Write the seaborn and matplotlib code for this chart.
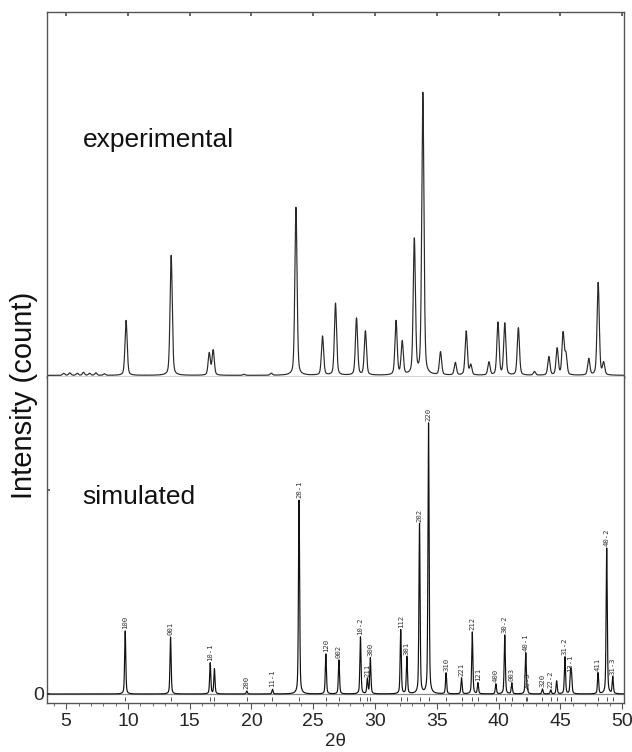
import numpy as np
import pandas as pd
import matplotlib
matplotlib.use("Agg")
import matplotlib.pyplot as plt
import seaborn as sns
from matplotlib import font_manager
from matplotlib.ticker import MultipleLocator, FixedLocator

# ---------------- data ----------------
# experimental pattern: peak positions (2theta) and heights (arbitrary units)
exp_pos = [4.8, 5.3, 5.9, 6.4, 6.9, 7.4, 8.1, 9.85, 13.5, 16.58, 16.9, 19.4, 21.6,
           23.6, 25.75, 26.8, 28.5, 29.22, 31.7, 32.2, 33.18, 33.87, 35.3, 36.5,
           37.38, 37.75, 39.22, 39.95, 40.5, 41.6, 42.9, 44.07, 44.74, 45.22,
           45.45, 47.3, 48.06, 48.5]
exp_int = [2.0, 2.5, 2.0, 3.0, 2.0, 2.5, 1.5, 55, 120, 22, 25, 1.0, 2.0,
           168, 39, 72, 57, 44, 54, 33, 135, 282, 23, 12.5,
           44, 10, 13, 52.5, 51.7, 47.4, 3.7, 18.4, 26.7, 41.7,
           20, 16.4, 92.7, 12]

# simulated pattern: reflections, positions and heights
sim_hkl = ["100", "001", "10-1", "", "200", "11-1", "20-1", "120", "002", "10-2",
           "211", "300", "112", "301", "202", "220", "310", "221", "212", "121",
           "400", "30-2", "003", "40-1", "20-3", "320", "22-2", "", "31-2", "13-1",
           "", "411", "40-2", "31-3"]
sim_pos = [9.78, 13.45, 16.66, 17.0, 19.62, 21.70, 23.85, 26.02, 27.08, 28.82,
           29.38, 29.62, 32.08, 32.58, 33.60, 34.33, 35.75, 37.0, 37.87, 38.33,
           39.78, 40.5, 41.07, 42.2, 42.33, 43.55, 44.22, 44.7, 45.37, 45.82,
           45.9, 48.05, 48.75, 49.24]
sim_int = [63, 57, 31, 25, 3, 4.7, 194, 40, 34, 57,
           15, 36, 64, 37, 170, 271, 21, 16, 62, 11,
           10, 59, 11, 41, 2.5, 5, 4, 13, 37, 20,
           18, 21, 146, 17]

x_ticks = [5, 10, 15, 20, 25, 30, 35, 40, 45, 50]

# ---------------- profile rendering ----------------
grid = np.arange(3.3, 50.3, 0.004)


def pattern(pos, inten, fwhm, eta):
    y = np.zeros_like(grid)
    g = fwhm / 2.0
    for p, h in zip(pos, inten):
        d = grid - p
        lor = 1.0 / (1.0 + (d / g) ** 2)
        gau = np.exp(-np.log(2) * (d / g) ** 2)
        y += h * (eta * lor + (1 - eta) * gau)
    return y


exp_df = pd.DataFrame({"two_theta": grid, "I": pattern(exp_pos, exp_int, 0.21, 0.35) + 0.6})
sim_df = pd.DataFrame({"two_theta": grid, "I": pattern(sim_pos, sim_int, 0.11, 0.45)})

# ---------------- style ----------------
sns.set_theme(style="ticks")
names = {f.name for f in font_manager.fontManager.ttflist}
narrow = "Liberation Sans Narrow" if "Liberation Sans Narrow" in names else "Liberation Sans"
plt.rcParams["font.family"] = ["Liberation Sans", "DejaVu Sans"]

fig = plt.figure(figsize=(6.32, 7.52), dpi=100)
L, W = 47 / 632, (624 - 47) / 632
ax_top = fig.add_axes([L, 1 - 377 / 752, W, (377 - 12) / 752])
ax_bot = fig.add_axes([L, 1 - 703 / 752, W, (703 - 377) / 752])

spine_c = "#555555"
for ax in (ax_top, ax_bot):
    ax.set_facecolor("white")
    for s in ax.spines.values():
        s.set_color(spine_c)
        s.set_linewidth(1.0)
    ax.set_xlim(3.45, 50.15)

# top panel
sns.lineplot(data=exp_df, x="two_theta", y="I", ax=ax_top, color="#2a2a2a",
             linewidth=0.85, legend=False)
ax_top.set_ylim(-1, 364)
ax_top.set_xlabel("")
ax_top.set_ylabel("")
ax_top.spines["bottom"].set_color("#222222")
ax_top.tick_params(axis="x", which="both", bottom=False, labelbottom=False,
                   top=True, direction="in", length=3, color=spine_c)
ax_top.xaxis.set_major_locator(FixedLocator(x_ticks))
ax_top.tick_params(axis="y", left=False, labelleft=False)
ax_top.text(0.062, 0.629, "experimental", transform=ax_top.transAxes,
            fontsize=19, ha="left", va="baseline", color="#111111")

# bottom panel
ax_bot.axhline(0, color="#8a8a8a", linewidth=0.9, zorder=1)
sns.lineplot(data=sim_df, x="two_theta", y="I", ax=ax_bot, color="#111111",
             linewidth=0.85, legend=False, zorder=3)
ax_bot.vlines(sim_pos, -6.5, -2.5, color="#333333", linewidth=0.6)
for hkl, p, h in zip(sim_hkl, sim_pos, sim_int):
    if hkl:
        ax_bot.text(p, h + 2, hkl, rotation=90, ha="center", va="bottom",
                    fontsize=5.2, family="DejaVu Sans Mono", color="#333333")
ax_bot.set_ylim(-9, 317)
ax_bot.spines["top"].set_visible(False)
ax_bot.xaxis.set_major_locator(FixedLocator(x_ticks))
ax_bot.xaxis.set_minor_locator(MultipleLocator(1))
ax_bot.tick_params(axis="x", which="major", direction="out", length=4, width=0.8,
                   color=spine_c, labelsize=14, pad=3)
ax_bot.tick_params(axis="x", which="minor", direction="out", length=2.5, width=0.6,
                   color=spine_c)
for lab in ax_bot.get_xticklabels():
    lab.set_family([narrow, "DejaVu Sans"])
ax_bot.set_yticks([0, 204])
ax_bot.set_yticklabels(["0", ""])
ax_bot.tick_params(axis="y", direction="in", length=2, color=spine_c,
                   labelsize=14, pad=2)
for lab in ax_bot.get_yticklabels():
    lab.set_family([narrow, "DejaVu Sans"])
ax_bot.set_xlabel("2θ", fontsize=13.5, labelpad=2, family=[narrow, "DejaVu Sans"])
ax_bot.set_ylabel("")
ax_bot.text(0.062, 0.61, "simulated", transform=ax_bot.transAxes,
            fontsize=19, ha="left", va="baseline", color="#111111")

fig.text(24 / 632, 1 - 395 / 752, "Intensity (count)", rotation=90, ha="center",
         va="center", fontsize=21, family=[narrow, "DejaVu Sans"], color="#111111")

fig.savefig("out.png", dpi=100, facecolor="white")
